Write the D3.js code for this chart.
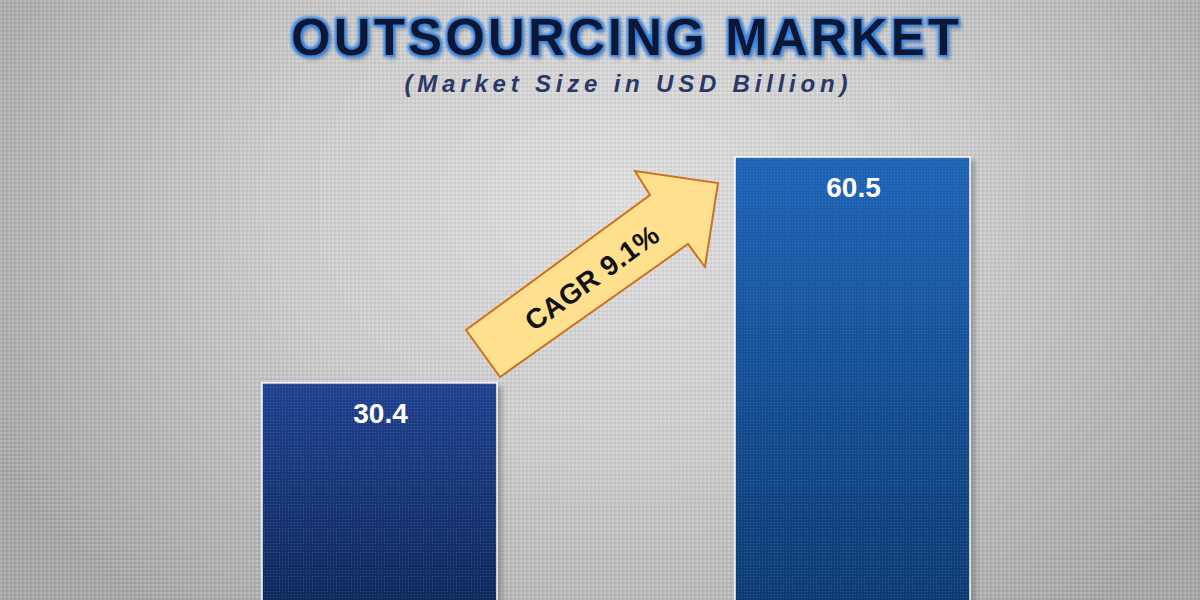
<!DOCTYPE html>
<html><head><meta charset="utf-8">
<script src="https://cdn.jsdelivr.net/npm/d3@7"></script>
<style>html,body{margin:0;padding:0;background:#c8c8c8;}svg{display:block;}</style>
</head><body>
<svg id="c" width="1200" height="600"></svg>
<script>
const categories = ["Base Year", "Forecast Year"];
const values = [30.4, 60.5];
const valueLabels = ["30.4", "60.5"];
const titleText = "OUTSOURCING MARKET";
const subtitleText = "(Market Size in USD Billion)";
const cagrText = "CAGR 9.1%";

const svg = d3.select("#c");
const defs = svg.append("defs");

// background
const bg = defs.append("radialGradient").attr("id","bg")
  .attr("gradientUnits","userSpaceOnUse").attr("cx",620).attr("cy",200).attr("r",720)
  .attr("gradientTransform","translate(620,200) scale(1,0.75) translate(-620,-200)");
bg.append("stop").attr("offset","0%").attr("stop-color","#dedede");
bg.append("stop").attr("offset","45%").attr("stop-color","#cdcdcd");
bg.append("stop").attr("offset","100%").attr("stop-color","#a6a6a6");
svg.append("rect").attr("width",1200).attr("height",600).attr("fill","url(#bg)");

// dotted texture
const pat = defs.append("pattern").attr("id","dots").attr("width",4).attr("height",4).attr("patternUnits","userSpaceOnUse");
pat.append("rect").attr("width",2).attr("height",2).attr("fill","#ffffff").attr("opacity",0.18);
pat.append("rect").attr("x",2).attr("y",2).attr("width",2).attr("height",2).attr("fill","#000000").attr("opacity",0.05);
svg.append("rect").attr("width",1200).attr("height",600).attr("fill","url(#dots)");

// bar gradients
const g1 = defs.append("linearGradient").attr("id","bar0").attr("x1",0).attr("y1",0).attr("x2",0).attr("y2",1);
g1.append("stop").attr("offset","0%").attr("stop-color","#22418e");
g1.append("stop").attr("offset","100%").attr("stop-color","#0f2858");
const g2 = defs.append("linearGradient").attr("id","bar1").attr("x1",0).attr("y1",0).attr("x2",0).attr("y2",1);
g2.append("stop").attr("offset","0%").attr("stop-color","#1f64b6");
g2.append("stop").attr("offset","100%").attr("stop-color","#0e3a70");

const barPat = defs.append("pattern").attr("id","bardots").attr("width",3).attr("height",3).attr("patternUnits","userSpaceOnUse");
barPat.append("rect").attr("width",1).attr("height",1).attr("fill","#5aa0e0").attr("opacity",0.35);

const shadow = defs.append("filter").attr("id","bshadow").attr("x","-10%").attr("y","-10%").attr("width","130%").attr("height","130%");
shadow.append("feGaussianBlur").attr("stdDeviation",2.5);

// title filter: blue glow + shadow
const tf = defs.append("filter").attr("id","glow").attr("x","-5%").attr("y","-30%").attr("width","110%").attr("height","170%");
tf.append("feMorphology").attr("in","SourceAlpha").attr("operator","dilate").attr("radius",1.6).attr("result","dil");
tf.append("feGaussianBlur").attr("in","dil").attr("stdDeviation",1.4).attr("result","blur");
tf.append("feFlood").attr("flood-color","#2f7fe0").attr("result","col");
tf.append("feComposite").attr("in","col").attr("in2","blur").attr("operator","in").attr("result","glowc");
tf.append("feOffset").attr("in","SourceAlpha").attr("dx",3).attr("dy",4).attr("result","off");
tf.append("feGaussianBlur").attr("in","off").attr("stdDeviation",2).attr("result","offb");
tf.append("feFlood").attr("flood-color","#000").attr("flood-opacity",0.35).attr("result","sc");
tf.append("feComposite").attr("in","sc").attr("in2","offb").attr("operator","in").attr("result","sh");
const fm = tf.append("feMerge");
fm.append("feMergeNode").attr("in","sh");
fm.append("feMergeNode").attr("in","glowc");
fm.append("feMergeNode").attr("in","SourceGraphic");

// scales
const x = d3.scaleBand().domain(categories).range([262, 970]).paddingInner(0.5032).paddingOuter(0);
const y = d3.scaleLinear().domain([0, 60.5]).range([611, 157]);

// bars
const bars = svg.append("g");
bars.selectAll("rect.sh").data(values).join("rect").attr("class","sh")
  .attr("x",(d,i)=>x(categories[i])+5).attr("y",d=>y(d)+3)
  .attr("width",x.bandwidth()).attr("height",d=>y(0)-y(d))
  .attr("fill","#6f6f6f").attr("opacity",0.55).attr("filter","url(#bshadow)");
bars.selectAll("rect.b").data(values).join("rect").attr("class","b")
  .attr("x",(d,i)=>x(categories[i])).attr("y",d=>y(d))
  .attr("width",x.bandwidth()).attr("height",d=>y(0)-y(d))
  .attr("fill",(d,i)=>`url(#bar${i})`).attr("stroke","#ffffff").attr("stroke-width",1.5);
bars.selectAll("rect.t").data(values).join("rect").attr("class","t")
  .attr("x",(d,i)=>x(categories[i])+1).attr("y",d=>y(d)+1)
  .attr("width",x.bandwidth()-2).attr("height",d=>y(0)-y(d)-1)
  .attr("fill","url(#bardots)");
bars.selectAll("text").data(values).join("text")
  .attr("x",(d,i)=>x(categories[i])+x.bandwidth()/2+1).attr("y",d=>y(d)+40)
  .attr("text-anchor","middle").attr("fill","#ffffff")
  .attr("font-family","Liberation Sans, Arial, sans-serif").attr("font-weight","bold").attr("font-size",28)
  .text((d,i)=>valueLabels[i]);

// CAGR arrow
const arrowPts = [[500,377],[466,330],[650,195],[635,171],[718,183],[705,267],[688,244]];
svg.append("path").attr("d", d3.line()(arrowPts)+"Z")
  .attr("fill","#fee08f").attr("stroke","#d0701f").attr("stroke-width",2).attr("stroke-linejoin","miter");
svg.append("text").attr("transform","translate(592,278) rotate(-36)")
  .attr("text-anchor","middle").attr("dominant-baseline","central")
  .attr("font-family","Liberation Sans, Arial, sans-serif").attr("font-weight","bold").attr("font-size",28)
  .attr("fill","#111").attr("textLength",158).attr("lengthAdjust","spacing")
  .text(cagrText);

// titles
svg.append("text").attr("x",625).attr("y",55).attr("text-anchor","middle")
  .attr("font-family","Liberation Sans, Arial, sans-serif").attr("font-weight","bold").attr("font-size",51)
  .attr("fill","#0a1330").attr("textLength",668).attr("lengthAdjust","spacing")
  .attr("filter","url(#glow)").text(titleText);
svg.append("text").attr("x",626).attr("y",92).attr("text-anchor","middle")
  .attr("font-family","Liberation Sans, Arial, sans-serif").attr("font-weight","bold").attr("font-style","italic").attr("font-size",24)
  .attr("fill","#2b3866").attr("textLength",443).attr("lengthAdjust","spacing")
  .text(subtitleText);
</script>
</body></html>
